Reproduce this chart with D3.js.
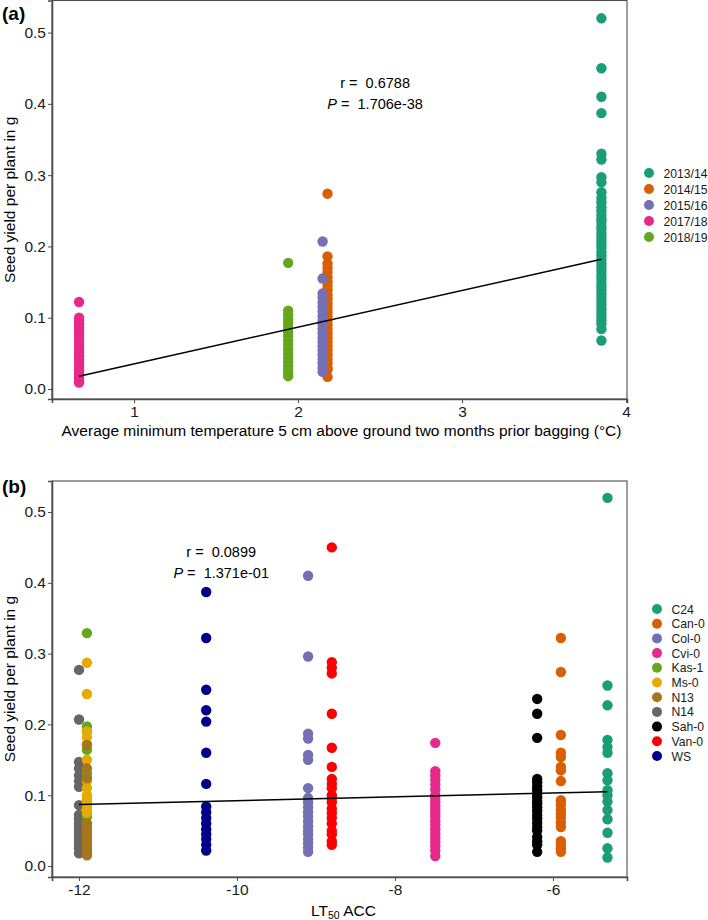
<!DOCTYPE html>
<html><head><meta charset="utf-8">
<script src="https://cdn.jsdelivr.net/npm/d3@7"></script>
<style>body{margin:0;background:#fff}svg{display:block;font-family:"Liberation Sans",Arial,sans-serif}</style>
</head><body>
<svg id="c" width="708" height="920"></svg>
<script>
// ---------- Panel (a) data ----------
const seasonsA = ["2013/14","2014/15","2015/16","2017/18","2018/19"];
const seasonTempA = [3.85, 2.18, 2.15, 0.665, 1.94];
const seasonColorsA = ["#1B9E77","#D95F02","#7570B3","#E7298A","#66A61E"];
const yield201314 = [0.52,0.45,0.41,0.387,0.33,0.322,0.297,0.29,0.276,0.268,0.262,0.255,0.25,0.244,0.239,0.235,0.229,0.224,0.218,0.213,0.208,0.203,0.198,0.192,0.187,0.181,0.176,0.171,0.166,0.16,0.155,0.149,0.144,0.139,0.133,0.128,0.122,0.117,0.112,0.106,0.101,0.096,0.091,0.084,0.068];
const yield201415 = [0.274,0.186,0.176,0.17,0.164,0.157,0.151,0.145,0.139,0.132,0.126,0.12,0.114,0.108,0.102,0.096,0.09,0.084,0.078,0.072,0.066,0.06,0.054,0.048,0.042,0.036,0.03,0.027,0.017];
const yield201516 = [0.207,0.155,0.134,0.128,0.121,0.115,0.109,0.102,0.096,0.09,0.084,0.078,0.072,0.066,0.06,0.054,0.048,0.042,0.036,0.03,0.024];
const yield201718 = [0.122,0.1,0.096,0.091,0.086,0.081,0.076,0.071,0.066,0.061,0.056,0.051,0.046,0.041,0.036,0.031,0.026,0.021,0.016,0.011,0.009];
const yield201819 = [0.177,0.11,0.104,0.098,0.092,0.086,0.08,0.074,0.068,0.062,0.056,0.05,0.044,0.038,0.032,0.026,0.021,0.018];
const yieldsA = [yield201314, yield201415, yield201516, yield201718, yield201819];
const drawOrderA = [0, 4, 1, 2, 3];
const fitA = [[0.665, 0.018],[3.85, 0.182]];
const statsA = ["0.6788", "1.706e-38"];
const xTicksA = [1,2,3,4];
const yTicks = [0,0.1,0.2,0.3,0.4,0.5];

// ---------- Panel (b) data ----------
const accessionsB = ["C24","Can-0","Col-0","Cvi-0","Kas-1","Ms-0","N13","N14","Sah-0","Van-0","WS"];
const lt50B = [-5.31,-5.9,-9.1,-7.49,-11.9,-11.9,-11.9,-12.0,-6.2,-8.8,-10.39];
const colorsB = ["#1B9E77","#D95F02","#7570B3","#E7298A","#66A61E","#E6AB02","#A6761D","#666666","#000000","#FF0000","#00008B"];
const yieldC24 = [0.52,0.255,0.227,0.178,0.168,0.16,0.131,0.121,0.107,0.1,0.091,0.079,0.066,0.047,0.025,0.012];
const yieldCan0 = [0.322,0.274,0.185,0.16,0.154,0.14,0.135,0.12,0.093,0.087,0.08,0.074,0.068,0.061,0.055,0.035,0.03,0.025,0.02];
const yieldCol0 = [0.41,0.296,0.187,0.18,0.157,0.15,0.11,0.096,0.09,0.083,0.076,0.07,0.063,0.056,0.05,0.045,0.038,0.032,0.026,0.02];
const yieldCvi0 = [0.174,0.134,0.128,0.122,0.115,0.108,0.1,0.095,0.09,0.085,0.08,0.075,0.07,0.064,0.058,0.052,0.046,0.04,0.034,0.028,0.022,0.014];
const yieldKas1 = [0.329,0.197,0.19,0.164,0.131,0.125,0.085,0.07,0.06,0.03,0.02];
const yieldMs0 = [0.287,0.243,0.19,0.182,0.172,0.15,0.12,0.11,0.1,0.095,0.09,0.085,0.08,0.075,0.05];
const yieldN13 = [0.171,0.138,0.124,0.06,0.055,0.05,0.045,0.04,0.035,0.03,0.025,0.02,0.015];
const yieldN14 = [0.277,0.207,0.147,0.138,0.128,0.12,0.112,0.086,0.072,0.066,0.06,0.055,0.05,0.045,0.04,0.035,0.03,0.025,0.018];
const yieldSah0 = [0.236,0.215,0.181,0.123,0.118,0.112,0.107,0.102,0.097,0.092,0.088,0.083,0.078,0.072,0.067,0.061,0.055,0.05,0.041,0.035,0.03,0.02];
const yieldVan0 = [0.45,0.288,0.28,0.272,0.215,0.167,0.14,0.123,0.116,0.11,0.1,0.095,0.09,0.081,0.075,0.068,0.06,0.05,0.045,0.035,0.03];
const yieldWS = [0.387,0.322,0.249,0.22,0.204,0.16,0.116,0.084,0.076,0.068,0.06,0.052,0.045,0.038,0.03,0.022];
const yieldsB = [yieldC24,yieldCan0,yieldCol0,yieldCvi0,yieldKas1,yieldMs0,yieldN13,yieldN14,yieldSah0,yieldVan0,yieldWS];
const drawOrderB = [7,4,5,6,10,2,9,3,8,1,0];
const fitB = [[-12.0, 0.087],[-5.31, 0.105]];
const statsB = ["0.0899", "1.371e-01"];
const xTicksB = [-12,-10,-8,-6];

const svg = d3.select("#c");
const L = 52, R = 627;
const axisCol = "#4d4d4d";
const FONT = "'Liberation Sans',Arial,sans-serif";
const FS = 15.5;

function panel(opts){
  const g = svg.append("g");
  const x = d3.scaleLinear().domain(opts.xDomain).range([L, R]);
  const y = d3.scaleLinear().domain(opts.yDomain).range([opts.bottom, opts.top]);
  opts.order.forEach(i => {
    g.append("g").selectAll("circle").data(opts.yields[i]).join("circle")
      .attr("cx", x(opts.xs[i])).attr("cy", d => y(d)).attr("r", 5.2)
      .attr("fill", opts.colors[i]);
  });
  g.append("path").datum(opts.fit)
    .attr("d", d3.line().x(d => x(d[0])).y(d => y(d[1])))
    .attr("stroke", "#000").attr("stroke-width", 1.5).attr("fill", "none");
  g.append("rect").attr("x", L).attr("y", opts.top).attr("width", R - L).attr("height", opts.bottom - opts.top)
    .attr("fill", "none").attr("stroke", axisCol).attr("stroke-width", 1.1);
  const ax = g.append("g").attr("transform", `translate(0,${opts.bottom})`)
    .call(d3.axisBottom(x).tickValues(opts.xTicks).tickSize(4).tickPadding(3).tickFormat(d => d < 0 ? "-" + Math.abs(d) : d));
  const ay = g.append("g").attr("transform", `translate(${L},0)`)
    .call(d3.axisLeft(y).tickValues(yTicks).tickSize(4).tickPadding(2).tickFormat(d3.format(".1f")));
  [ax, ay].forEach(a => {
    a.attr("font-size", FS).attr("font-family", FONT);
    a.select(".domain").attr("stroke", axisCol).attr("stroke-width", 1.6);
    a.selectAll(".tick line").attr("stroke", axisCol);
    a.selectAll(".tick text").attr("fill", "#1a1a1a").attr("font-size", FS);
  });
  const t = g.append("text").attr("text-anchor", "middle").attr("font-size", 14.5).attr("fill", "#000")
    .attr("xml:space", "preserve").style("white-space", "pre")
    .attr("x", x(opts.statX)).attr("y", opts.statY).text("r =  " + opts.stats[0]);
  const t2 = g.append("text").attr("text-anchor", "middle").attr("font-size", 14.5).attr("fill", "#000")
    .attr("xml:space", "preserve").style("white-space", "pre")
    .attr("x", x(opts.statX)).attr("y", opts.statY + 21);
  t2.append("tspan").style("font-style", "italic").text("P");
  t2.append("tspan").text(" =  " + opts.stats[1]);
  g.append("text").attr("transform", `translate(15,${(opts.top + opts.bottom) / 2}) rotate(-90)`)
    .attr("text-anchor", "middle").attr("font-size", FS).attr("fill", "#000").text("Seed yield per plant in g");
  g.append("text").attr("x", 2).attr("y", opts.top + opts.labelDy).attr("font-size", 19).attr("font-weight", "bold")
    .attr("fill", "#000").text(opts.label);
  const lg = g.append("g");
  opts.names.forEach((n, i) => {
    const yy = opts.legTop + i * opts.legStep;
    lg.append("circle").attr("cx", opts.legX).attr("cy", yy).attr("r", 5).attr("fill", opts.colors[i]);
    lg.append("text").attr("x", opts.legX + 14.5).attr("y", yy + 4.5).attr("font-size", 12.2).attr("fill", "#1a1a1a").text(n);
  });
  return {g, x, y};
}

const pa = panel({
  xDomain: [0.5, 4.006], yDomain: [-0.014, 0.545], top: 0.5, bottom: 399,
  xs: seasonTempA, yields: yieldsA, colors: seasonColorsA, order: drawOrderA, fit: fitA,
  xTicks: xTicksA, stats: statsA, statX: 2.47, statY: 88, label: "(a)", labelDy: 19,
  names: seasonsA, legX: 649, legTop: 173, legStep: 16
});
pa.g.append("text").attr("x", (L + R) / 2 + 2).attr("y", 436).attr("text-anchor", "middle")
  .attr("font-size", FS).attr("fill", "#000")
  .text("Average minimum temperature 5 cm above ground two months prior bagging (°C)");

const pb = panel({
  xDomain: [-12.342, -5.063], yDomain: [-0.0155, 0.5438], top: 481, bottom: 877,
  xs: lt50B, yields: yieldsB, colors: colorsB, order: drawOrderB, fit: fitB,
  xTicks: xTicksB, stats: statsB, statX: -10.2, statY: 557, label: "(b)", labelDy: 12,
  names: accessionsB, legX: 657, legTop: 609, legStep: 14.7
});
const xt = pb.g.append("text").attr("x", (L + R) / 2 + 4).attr("y", 916).attr("text-anchor", "middle")
  .attr("font-size", FS).attr("fill", "#000");
xt.append("tspan").text("LT");
xt.append("tspan").attr("dy", 3).attr("font-size", 10.5).text("50");
xt.append("tspan").attr("dy", -3).text(" ACC");
</script>
</body></html>
